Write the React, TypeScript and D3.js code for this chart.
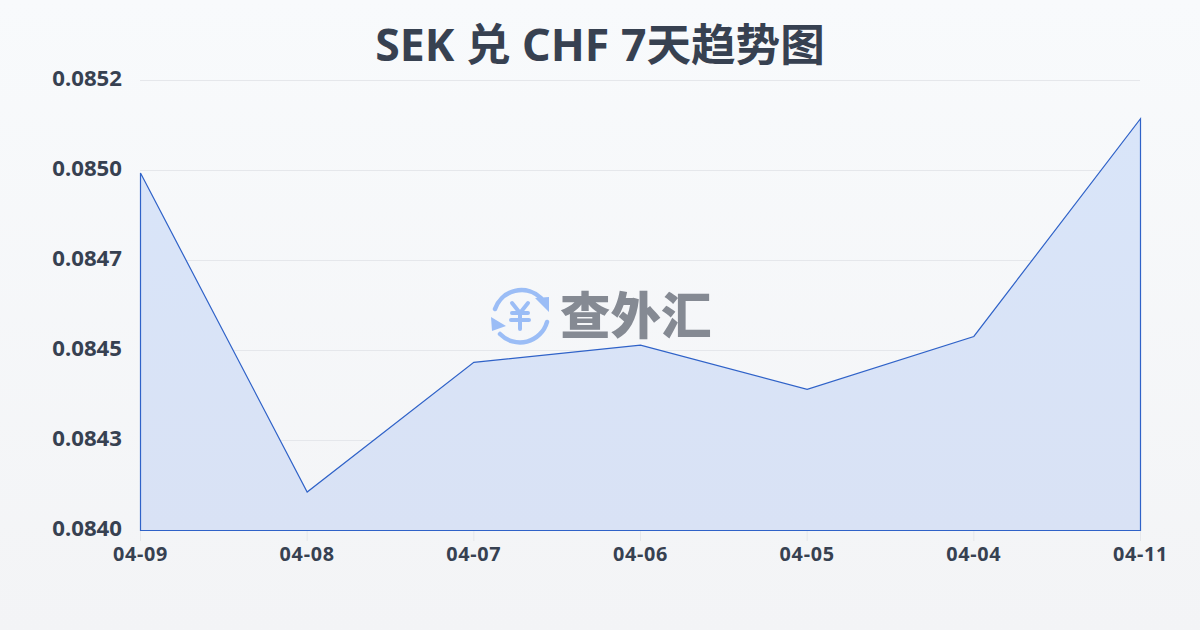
import React from "react";
import * as d3 from "d3";

const categories = ["04-09", "04-08", "04-07", "04-06", "04-05", "04-04", "04-11"];
const values = [0.084993, 0.084107, 0.084467, 0.084515, 0.084392, 0.084539, 0.085144];
const tickValues = [0.084, 0.08425, 0.0845, 0.08475, 0.085, 0.08525];
const tickLabels = ["0.0840", "0.0843", "0.0845", "0.0847", "0.0850", "0.0852"];
const title = "SEK 兑 CHF 7天趋势图";
const brand = "查外汇";

const FONT = '"Noto Sans", "Noto Sans CJK SC", sans-serif';
const DARK = "#374151";

export default function App() {
  const x = d3.scalePoint<string>().domain(categories).range([140.5, 1140.5]);
  const y = d3.scaleLinear().domain([0.084, 0.08525]).range([530.5, 80.5]);
  const data = categories.map((c, i) => ({ c, v: values[i] }));
  const area = d3
    .area<{ c: string; v: number }>()
    .x((d) => x(d.c)!)
    .y0(y(0.084))
    .y1((d) => y(d.v));
  const d = area(data)!;
  return (
    <svg
      width={1200}
      height={630}
      viewBox="0 0 1200 630"
      style={{ position: "fixed", left: 0, top: 0, display: "block" }}
    >
      <defs>
        <linearGradient id="bg" x1="0" y1="0" x2="0" y2="1">
          <stop offset="0" stopColor="#f8fafc" />
          <stop offset="1" stopColor="#f3f4f6" />
        </linearGradient>
        <linearGradient id="fill" x1="0" y1="0" x2="0" y2="1">
          <stop offset="0" stopColor="#d9e5f9" />
          <stop offset="1" stopColor="#d9e2f5" />
        </linearGradient>
      </defs>
      <rect width={1200} height={630} fill="url(#bg)" />
      <text x={600} y={60.5} textAnchor="middle" fontFamily={FONT} fontSize={44.6} fontWeight={700} fill={DARK}>
        {title}
      </text>
      {tickValues.map((t, i) => (
        <g key={i}>
          <line x1={140} x2={1140} y1={y(t)} y2={y(t)} stroke="#e5e7eb" strokeWidth={1} />
          <text x={122} y={y(t) - 2} dy="0.35em" textAnchor="end" fontFamily={FONT} fontSize={22.2} fontWeight={700} fill={DARK}>
            {tickLabels[i]}
          </text>
        </g>
      ))}
      {categories.map((c) => (
        <g key={c}>
          <line x1={x(c)} x2={x(c)} y1={530} y2={541} stroke="#e5e7eb" strokeWidth={1} />
          <text x={x(c)} y={561} textAnchor="middle" fontFamily={FONT} fontSize={19.8} letterSpacing={0.7} fontWeight={700} fill={DARK}>
            {c}
          </text>
        </g>
      ))}
      <path d={d} fill="url(#fill)" stroke="#2f62c8" strokeWidth={1.2} strokeLinejoin="miter" />
      <g fill="none" stroke="#9bbdf6" strokeLinecap="round">
        <path d="M495 309 A 28 28 0 0 1 541 298" strokeWidth={4.5} />
        <path d="M547 322 A 28 28 0 0 1 500 334" strokeWidth={4.5} />
        <path d="M512 303 L520 313 L528 303 M512 313 H528 M511 320 H529 M520 313 V329" strokeWidth={4} />
      </g>
      <path d="M535 298 L549 297 L549 312 Z M491 317 L506 326 L492 331 Z" fill="#9bbdf6" />
      <text x={560} y={334} fontFamily='"Noto Sans CJK SC", sans-serif' fontSize={50.5} fontWeight={900} fill="#858a93">
        {brand}
      </text>
    </svg>
  );
}
